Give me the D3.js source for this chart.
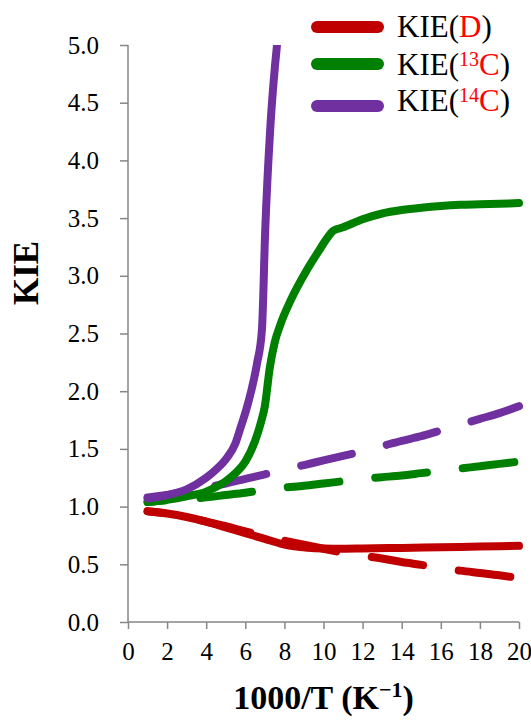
<!DOCTYPE html>
<html>
<head>
<meta charset="utf-8">
<script src="https://cdn.jsdelivr.net/npm/d3@7"></script>
<style>
    body { margin: 0; background: #fff; }
    text { font-family: "Liberation Serif", "Times New Roman", serif; }
</style>
</head>
<body>
<div class="viz-chart-container"></div>
<script>
// solid curves
let redSolidX = [1, 2, 3, 4, 5, 6, 7, 7.8, 8.5, 9.2, 10, 11, 12, 14, 16, 18, 20];
let redSolidY = [0.96, 0.94, 0.91, 0.87, 0.82, 0.77, 0.72, 0.68, 0.655, 0.643, 0.637, 0.635, 0.637, 0.642, 0.648, 0.654, 0.66];
let greenSolidX = [1, 2, 3, 4, 4.5, 5, 5.5, 6, 6.5, 6.8, 7, 7.25, 7.5, 7.8, 8.3, 9.15, 9.7, 10.2, 10.5, 11, 12, 13, 14, 15, 16, 17, 18, 19, 20];
let greenSolidY = [1.04, 1.06, 1.09, 1.13, 1.17, 1.22, 1.29, 1.39, 1.57, 1.73, 1.87, 2.2, 2.42, 2.58, 2.78, 3.05, 3.2, 3.33, 3.39, 3.42, 3.49, 3.54, 3.57, 3.59, 3.605, 3.615, 3.62, 3.625, 3.63];
let purpleSolidX = [1, 2, 3, 4, 4.5, 5, 5.5, 5.75, 6.05, 6.3, 6.6, 6.85, 7.02, 7.27, 7.53, 7.62, 7.7];
let purpleSolidY = [1.07, 1.1, 1.15, 1.25, 1.32, 1.41, 1.55, 1.68, 1.84, 2.0, 2.24, 2.53, 3.4, 4.26, 4.84, 5.0, 5.2];

// dashed curves
let dashX = [1, 2, 3, 4, 5, 6, 7, 8, 9, 10, 11, 12, 13, 14, 15, 16, 17, 18, 19, 20];
let redDashY = [0.96, 0.94, 0.91, 0.87, 0.83, 0.785, 0.745, 0.705, 0.67, 0.635, 0.6, 0.575, 0.55, 0.52, 0.495, 0.47, 0.445, 0.425, 0.405, 0.38];
let greenDashY = [1.04, 1.055, 1.065, 1.08, 1.1, 1.12, 1.145, 1.165, 1.18, 1.2, 1.22, 1.24, 1.255, 1.27, 1.29, 1.31, 1.33, 1.35, 1.37, 1.39];
let purpleDashY = [1.08, 1.1, 1.135, 1.165, 1.2, 1.24, 1.28, 1.32, 1.36, 1.4, 1.44, 1.48, 1.525, 1.57, 1.61, 1.66, 1.71, 1.76, 1.81, 1.87];

let xTicks = [0, 2, 4, 6, 8, 10, 12, 14, 16, 18, 20];
let yTicks = [0, 0.5, 1, 1.5, 2, 2.5, 3, 3.5, 4, 4.5, 5];
let legendLabels = [["KIE(", "", "D", ")"], ["KIE(", "13", "C", ")"], ["KIE(", "14", "C", ")"]];

let colors = ["#C00000", "#008000", "#7030A0"];
let dashOffsets = [35, 35, 19];

let width = 531, height = 720;
let margin = { top: 45, right: 12, bottom: 98, left: 128 };

let svg = d3.select(".viz-chart-container").append("svg")
    .attr("width", width)
    .attr("height", height);

let x = d3.scaleLinear().domain([0, 20]).range([margin.left, width - margin.right]);
let y = d3.scaleLinear().domain([0, 5]).range([height - margin.bottom, margin.top]);

// axes
let axisColor = "#868686";
let xAxis = svg.append("g")
    .attr("transform", `translate(0, ${y(0)})`)
    .call(d3.axisBottom(x).tickValues(xTicks).tickSize(7).tickPadding(13).tickFormat(d3.format("d")));
let yAxis = svg.append("g")
    .attr("transform", `translate(${x(0)}, 0)`)
    .call(d3.axisLeft(y).tickValues(yTicks).tickSize(8).tickPadding(21).tickFormat(d3.format(".1f")));
[xAxis, yAxis].forEach(a => {
    a.select(".domain").attr("stroke", axisColor).attr("stroke-width", 1.5);
    a.selectAll(".tick line").attr("stroke", axisColor).attr("stroke-width", 1.5);
    a.selectAll(".tick text")
        .attr("fill", "#000")
        .attr("font-family", "Liberation Serif")
        .attr("font-size", 25);
});
// excel style: domain without outer ticks
xAxis.select(".domain").attr("d", `M${x(0)},0H${x(20)}`);
yAxis.select(".domain").attr("d", `M0,${y(0)}V${y(5)}`);

// titles
let xTitle = svg.append("text")
    .attr("x", (x(0) + x(20)) / 2)
    .attr("y", 709)
    .attr("text-anchor", "middle")
    .style("font-size", "34px")
    .style("font-weight", "bold");
xTitle.append("tspan").text("1000/T (K");
xTitle.append("tspan").attr("dy", -12).style("font-size", "22px").text("\u22121");
xTitle.append("tspan").attr("dy", 12).text(")");

svg.append("text")
    .attr("transform", "translate(38, 273) rotate(-90)")
    .attr("text-anchor", "middle")
    .style("font-size", "35px")
    .style("font-weight", "bold")
    .text("KIE");

// lines
svg.append("clipPath").attr("id", "plot-clip")
    .append("rect")
    .attr("x", x(0)).attr("y", y(5))
    .attr("width", width - x(0)).attr("height", y(0) - y(5));

let line = d3.line()
    .x(d => x(d[0]))
    .y(d => y(d[1]))
    .curve(d3.curveMonotoneX);

let dashed = [redDashY, greenDashY, purpleDashY].map(ys => dashX.map((v, i) => [v, ys[i]]));
let solid = [
    redSolidX.map((v, i) => [v, redSolidY[i]]),
    greenSolidX.map((v, i) => [v, greenSolidY[i]]),
    purpleSolidX.map((v, i) => [v, purpleSolidY[i]])
];

let plot = svg.append("g").attr("clip-path", "url(#plot-clip)");
dashed.forEach((d, i) => {
    plot.append("path")
        .datum(d)
        .attr("fill", "none")
        .attr("stroke", colors[i])
        .attr("stroke-width", 8)
        .attr("stroke-linecap", "round")
        .attr("stroke-dasharray", "52,36")
        .attr("stroke-dashoffset", dashOffsets[i])
        .attr("d", line);
});
solid.forEach((d, i) => {
    plot.append("path")
        .datum(d)
        .attr("fill", "none")
        .attr("stroke", colors[i])
        .attr("stroke-width", 8)
        .attr("stroke-linecap", "round")
        .attr("stroke-linejoin", "round")
        .attr("d", line);
});

// legend
let legendY = [27, 64, 106];
let legendTextY = [37, 75, 111];
let legend = svg.append("g");
legendLabels.forEach((lab, i) => {
    legend.append("line")
        .attr("x1", 317).attr("x2", 378)
        .attr("y1", legendY[i]).attr("y2", legendY[i])
        .attr("stroke", colors[i])
        .attr("stroke-width", 12)
        .attr("stroke-linecap", "round");
    let t = legend.append("text")
        .attr("x", 397)
        .attr("y", legendTextY[i])
        .style("font-size", "31px");
    t.append("tspan").text(lab[0]);
    if (lab[1]) {
        t.append("tspan").attr("dy", -9).attr("fill", "#FF0000").style("font-size", "20px").text(lab[1]);
        t.append("tspan").attr("dy", 9).attr("fill", "#FF0000").text(lab[2]);
    } else {
        t.append("tspan").attr("fill", "#FF0000").text(lab[2]);
    }
    t.append("tspan").text(lab[3]);
});
</script>
</body>
</html>
